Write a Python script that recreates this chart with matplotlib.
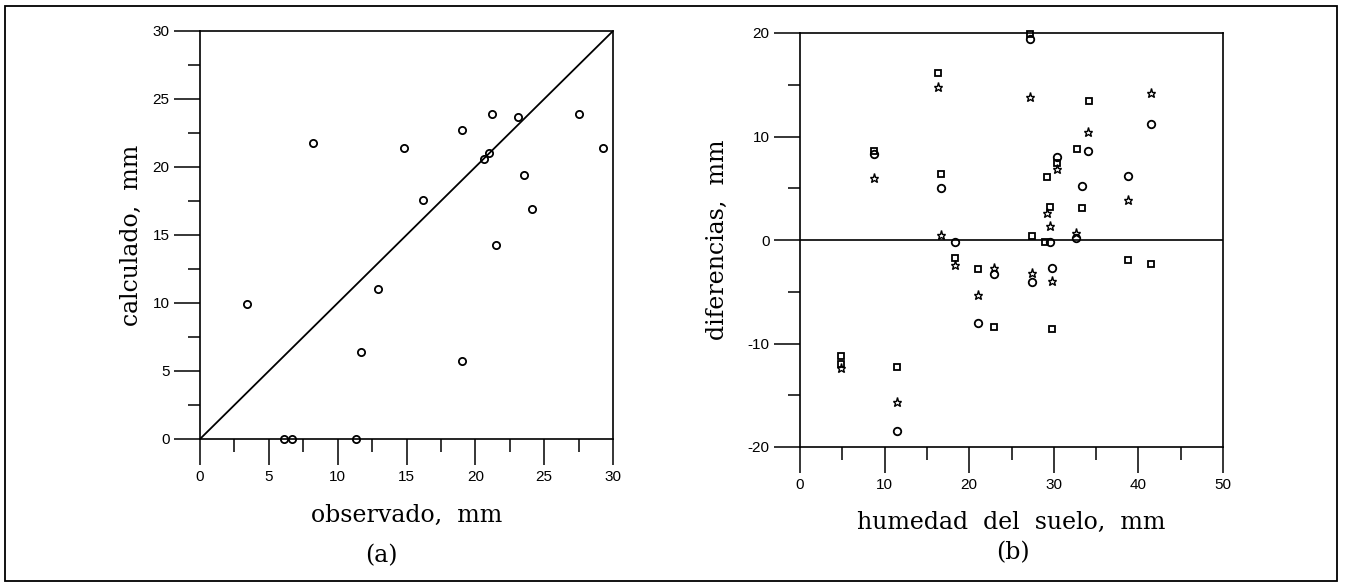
import matplotlib
matplotlib.use("Agg")
import matplotlib.pyplot as plt
from matplotlib.patches import Rectangle
from matplotlib.ticker import MultipleLocator

plt.rcParams["axes.unicode_minus"] = False

# ---- data: panel (a) ----
observado = [3.4, 6.1, 6.7, 8.2, 11.3, 11.7, 12.9, 14.8, 16.2, 19.0,
             19.0, 20.6, 21.0, 21.2, 21.5, 23.1, 23.5, 24.1, 27.5, 29.3]
calculado = [9.9, 0.0, 0.0, 21.8, 0.0, 6.4, 11.0, 21.4, 17.6, 22.7,
             5.7, 20.6, 21.0, 23.9, 14.3, 23.7, 19.4, 16.9, 23.9, 21.4]
diag = [0, 30]

# ---- data: panel (b) ----
sq_x = [4.8, 4.8, 8.7, 11.5, 16.3, 16.7, 18.3, 21.0, 22.9, 27.2, 27.4, 29.2,
        29.6, 29.0, 29.8, 30.4, 32.7, 33.3, 34.2, 38.8, 41.5]
sq_y = [-11.2, -12.0, 8.6, -12.3, 16.1, 6.4, -1.7, -2.8, -8.4, 19.9, 0.4, 6.1,
        3.2, -0.2, -8.6, 7.4, 8.8, 3.1, 13.4, -1.9, -2.3]
ci_x = [8.7, 11.5, 16.7, 18.3, 21.0, 22.9, 27.2, 27.4, 29.6, 29.8, 30.4,
        32.6, 33.3, 34.1, 38.8, 41.5]
ci_y = [8.3, -18.5, 5.0, -0.2, -8.0, -3.3, 19.4, -4.1, -0.2, -2.7, 8.0,
        0.15, 5.2, 8.6, 6.2, 11.2]
st_x = [4.8, 8.7, 11.5, 16.3, 16.7, 18.3, 21.0, 22.9, 27.2, 27.4, 29.2,
        29.6, 29.8, 30.4, 32.6, 34.1, 38.8, 41.5]
st_y = [-12.4, 6.0, -15.7, 14.8, 0.5, -2.4, -5.3, -2.7, 13.8, -3.2, 2.6,
        1.35, -4.0, 6.9, 0.7, 10.4, 3.9, 14.2]

W, H = 1346, 583
fig = plt.figure(figsize=(W / 100, H / 100), dpi=100)

def px_axes(x0, y0, x1, y1):
    return fig.add_axes([x0 / W, 1 - y1 / H, (x1 - x0) / W, (y1 - y0) / H])

lab_font = dict(family="DejaVu Serif", size=17)
cap_font = dict(family="DejaVu Serif", size=17)

def style(ax):
    for s in ax.spines.values():
        s.set_linewidth(1.2)
    ax.tick_params(which="major", direction="out", length=19, width=1.1,
                   pad=3, labelsize=11)
    ax.tick_params(which="minor", direction="out", length=9, width=1.1)
    ax.tick_params(top=False, right=False)
    for lbl in ax.get_xticklabels() + ax.get_yticklabels():
        lbl.set_fontfamily("Liberation Sans")

# ---- panel (a) ----
axa = px_axes(200, 31, 613, 439)
axa.plot(diag, diag, color="black", lw=1.3)
axa.plot(observado, calculado, ls="none", marker="o", ms=5.2, mfc="none",
         mec="black", mew=1.3, clip_on=False)
axa.set_xlim(0, 30)
axa.set_ylim(0, 30)
axa.xaxis.set_major_locator(MultipleLocator(5))
axa.xaxis.set_minor_locator(MultipleLocator(2.5))
axa.yaxis.set_major_locator(MultipleLocator(5))
axa.yaxis.set_minor_locator(MultipleLocator(2.5))
style(axa)
axa.set_xlabel("observado,  mm", fontdict=lab_font, labelpad=15)
axa.set_ylabel("calculado,  mm", fontdict=lab_font, labelpad=7)
fig.text(381 / W, 1 - 556 / H, "(a)", ha="center", va="center", **cap_font)

# ---- panel (b) ----
axb = px_axes(800, 33, 1223, 447)
axb.axhline(0, color="black", lw=1.2)
axb.plot(sq_x, sq_y, ls="none", marker="s", ms=5, mfc="none", mec="black",
         mew=1.3, clip_on=False)
axb.plot(ci_x, ci_y, ls="none", marker="o", ms=5.4, mfc="none", mec="black",
         mew=1.3, clip_on=False)
axb.plot(st_x, st_y, ls="none", marker="*", ms=6.5, mfc="none", mec="black",
         mew=1.0, clip_on=False)
axb.set_xlim(0, 50)
axb.set_ylim(-20, 20)
axb.xaxis.set_major_locator(MultipleLocator(10))
axb.xaxis.set_minor_locator(MultipleLocator(5))
axb.yaxis.set_major_locator(MultipleLocator(10))
axb.yaxis.set_minor_locator(MultipleLocator(5))
style(axb)
axb.set_xlabel("humedad  del  suelo,  mm", fontdict=lab_font, labelpad=14)
axb.set_ylabel("diferencias,  mm", fontdict=lab_font, labelpad=13)
fig.text(1013 / W, 1 - 553 / H, "(b)", ha="center", va="center", **cap_font)

# ---- outer frame ----
fig.patches.append(Rectangle((5 / W, 1 - 581 / H), (1337 - 5) / W, (581 - 6) / H,
                             transform=fig.transFigure, fill=False,
                             edgecolor="black", lw=1.3))

fig.savefig("out.png", dpi=100)
